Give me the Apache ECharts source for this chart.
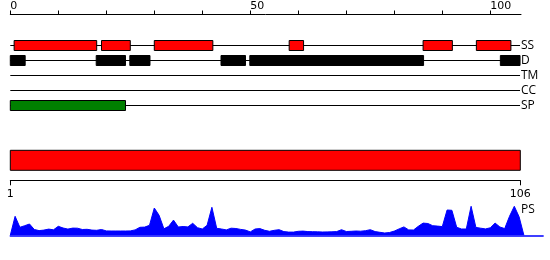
<!DOCTYPE html>
<html><head><meta charset="utf-8">
<script src="https://cdn.jsdelivr.net/npm/echarts@6/dist/echarts.min.js"></script>
<style>html,body{margin:0;padding:0;background:#fff}#c{width:550px;height:260px}</style>
</head><body><div id="c"></div>
<script>
// ---- data ----
const trackNames = ['SS', 'D', 'TM', 'CC', 'SP'];
const ssRegions = [[0.8, 18.0], [19.0, 25.0], [30.0, 42.2], [58.1, 61.1], [86.0, 92.1], [97.1, 104.3]];
const dRegions = [[0, 3.1], [17.9, 24.0], [24.9, 29.1], [43.9, 49.0], [49.9, 86.1], [102.1, 106.2]];
const tmRegions = [];
const ccRegions = [];
const spRegions = [[0, 24.0]];
const trackSpan = [0, 106.2];
const topTicks = [0, 10, 20, 30, 40, 50, 60, 70, 80, 90, 100];
const topLabels = [0, 50, 100];
const chainRange = [1, 106];
const chainLabels = [1, 106];
const psValues = [0, 19, 8, 9.6, 11.3, 5.8, 4.7, 5.2, 6.2, 5.5, 9, 7.3, 6.2, 7.2, 7.1, 5.8, 6, 5.2, 5, 5.8,
  4.4, 4.3, 4.3, 4.3, 4.3, 4.4, 5.4, 8, 8.2, 10, 27.3, 20, 6.5, 9, 15.2, 8.3, 8.8, 8.4, 12, 7.6,
  6.3, 10, 28, 7, 6.3, 5.4, 7.1, 6.8, 5.9, 5.2, 3.4, 6.3, 6.7, 5, 4, 5, 5.6, 3.7, 3.2, 3.2,
  4, 4.2, 3.7, 3.6, 3.5, 3.3, 3.4, 3.5, 3.7, 5.6, 3.8, 4, 4.3, 4.1, 4.6, 5.6, 3.7, 3, 2.3, 2.8,
  4.2, 6.4, 8.4, 5.4, 5.3, 9, 12.2, 11.8, 9.6, 9.2, 8.7, 25.3, 25, 8, 6.3, 6.3, 29, 7.9, 7.1, 6.4,
  7.5, 12.2, 8.3, 6.7, 19, 29, 18.5, 0];

// ---- build ----
const trackColors = { SS: '#ff0000', D: '#000000', TM: '#000000', CC: '#000000', SP: '#008000' };
const regionSets = { SS: ssRegions, D: dRegions, TM: tmRegions, CC: ccRegions, SP: spRegions };
const lineData = trackNames.map((n, k) => [trackSpan[0], trackSpan[1], k]);
const boxData = [];
trackNames.forEach((n, k) => regionSets[n].forEach(r => boxData.push([r[0], r[1], k, n])));
const psData = psValues.map((v, i) => [i, v]);

const chart = echarts.init(document.getElementById('c'), null, { renderer: 'canvas' });
const font = 'DejaVu Sans';
chart.setOption({
  animation: false,
  grid: [
    { left: 10.3, top: 38, width: 510.7, height: 75 },
    { left: 10.3, top: 140, width: 510, height: 40.3 },
    { left: 10.3, top: 205.3, width: 532.8, height: 30 }
  ],
  xAxis: [
    {
      gridIndex: 0, type: 'value', min: 0, max: 106.4, position: 'top', offset: 23.5,
      axisLine: { show: true, lineStyle: { color: '#000', width: 1 } },
      axisTick: { show: true, customValues: topTicks, length: 4, lineStyle: { color: '#000' } },
      axisLabel: { customValues: topLabels, align: 'left', margin: 3, fontFamily: font, fontSize: 11, color: '#000' },
      splitLine: { show: false }
    },
    {
      gridIndex: 1, type: 'value', min: chainRange[0], max: chainRange[1], position: 'bottom',
      axisLine: { show: true, lineStyle: { color: '#000', width: 1 } },
      axisTick: { show: true, customValues: chainLabels, length: 5, lineStyle: { color: '#000' } },
      axisLabel: { customValues: chainLabels, margin: 8, fontFamily: font, fontSize: 11, color: '#000' },
      splitLine: { show: false }
    },
    {
      gridIndex: 2, type: 'value', min: 0, max: 111, position: 'bottom',
      axisLine: { show: true, lineStyle: { color: '#0000ff', width: 1.5 } },
      axisTick: { show: false }, axisLabel: { show: false }, splitLine: { show: false }
    }
  ],
  yAxis: [
    {
      gridIndex: 0, type: 'category', data: trackNames, inverse: true, position: 'right',
      axisLine: { show: false }, axisTick: { show: false },
      axisLabel: { interval: 0, hideOverlap: false, margin: 0, fontFamily: 'Open Sans', fontSize: 12, color: '#000' },
      splitLine: { show: false }
    },
    { gridIndex: 1, type: 'value', min: 0, max: 1, show: false },
    { gridIndex: 2, type: 'value', min: 0, max: 30, show: false }
  ],
  series: [
    {
      type: 'custom', xAxisIndex: 0, yAxisIndex: 0, data: lineData, z: 1,
      renderItem: function (params, api) {
        const a = api.coord([api.value(0), api.value(2)]);
        const b = api.coord([api.value(1), api.value(2)]);
        return { type: 'line', shape: { x1: a[0], y1: a[1], x2: b[0], y2: b[1] }, style: { stroke: '#000', lineWidth: 1 } };
      }
    },
    {
      type: 'custom', xAxisIndex: 0, yAxisIndex: 0, data: boxData, z: 2,
      renderItem: function (params, api) {
        const a = api.coord([api.value(0), api.value(2)]);
        const b = api.coord([api.value(1), api.value(2)]);
        const name = boxData[params.dataIndex][3];
        const h = 10;
        return { type: 'rect', shape: { x: a[0], y: a[1] - h / 2, width: b[0] - a[0], height: h },
          style: { fill: trackColors[name], stroke: '#000', lineWidth: 1 } };
      }
    },
    {
      type: 'custom', xAxisIndex: 1, yAxisIndex: 1, data: [[chainRange[0], chainRange[1]]],
      renderItem: function (params, api) {
        const a = api.coord([api.value(0), 0]);
        const b = api.coord([api.value(1), 0]);
        return { type: 'rect', shape: { x: a[0], y: a[1] - 30, width: b[0] - a[0], height: 20 },
          style: { fill: '#ff0000', stroke: '#000', lineWidth: 1 } };
      }
    },
    {
      type: 'line', xAxisIndex: 2, yAxisIndex: 2, data: psData, symbol: 'none',
      lineStyle: { color: '#0000ff', width: 1 }, areaStyle: { color: '#0000ff', opacity: 1 }, z: 1
    }
  ],
  graphic: [
    { type: 'text', left: 521, top: 204, style: { text: 'PS', font: '12px "Open Sans"', fill: '#000' } }
  ]
});
</script>
</body></html>
